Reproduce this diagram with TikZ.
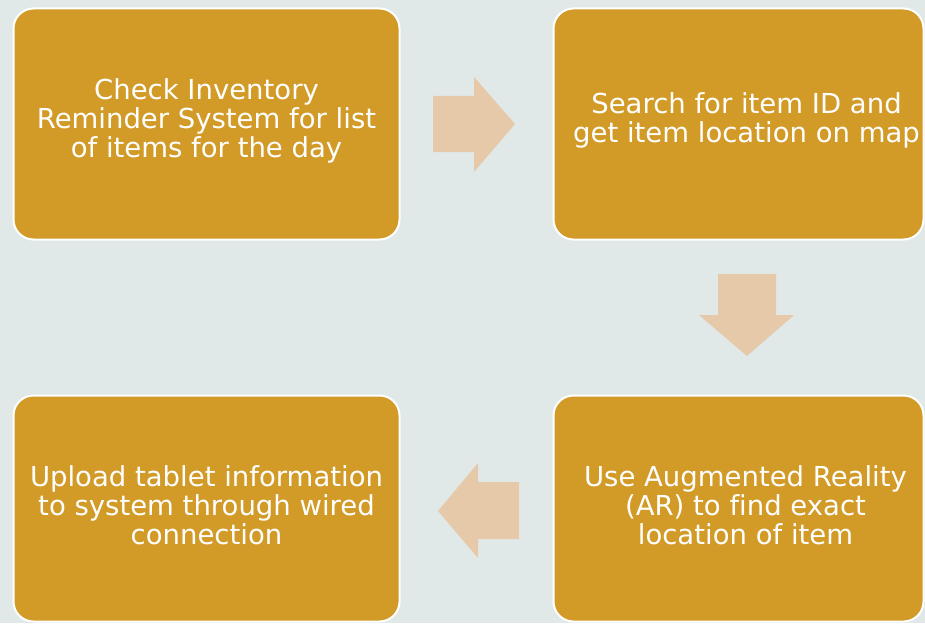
\documentclass[tikz,border=0pt]{standalone}
\usepackage{fontspec}
\setmainfont[Ligatures=CommonOff]{DejaVu Sans}
\definecolor{bg}{HTML}{E1E8E8}
\definecolor{boxfill}{HTML}{D29A27}
\definecolor{arrowfill}{HTML}{E5C9A9}
\begin{document}
\begin{tikzpicture}[x=1pt,y=-1pt,
  stepbox/.style={draw=white,line width=2pt,fill=boxfill,rounded corners=20pt,
    minimum width=386pt,minimum height=231pt,inner sep=0pt},
  steptext/.style={text=white,align=center,inner sep=0pt,
    font=\fontsize{27.5}{29}\selectfont},
  blockarrow/.style={fill=arrowfill,draw=none}]
\fill[bg] (0,0) rectangle (925,623);
\useasboundingbox (0,0) rectangle (925,623);
\node[stepbox] (a) at (206.5,124) {};
\node[stepbox,minimum width=370pt] (b) at (738.5,124) {};
\node[stepbox,minimum width=370pt,minimum height=226pt] (c) at (738.5,508.5) {};
\node[stepbox,minimum height=226pt] (d) at (206.5,508.5) {};
\node[steptext] (at) at ([yshift=3pt]a.center) {Check Inventory\\Reminder System for list\\of items for the day};
\node[steptext] (bt) at ([xshift=8pt,yshift=4pt]b.center) {Search for item ID and\\get item location on map};
\node[steptext] (ct) at ([xshift=7pt,yshift=3pt]c.center) {Use Augmented Reality\\(AR) to find exact\\location of item};
\node[steptext] (dt) at ([yshift=3pt]d.center) {Upload tablet information\\to system through wired\\connection};
\fill[blockarrow] (433,96) -- (474,96) -- (474,77) -- (515,124) -- (474,172) -- (474,152) -- (433,152) -- cycle;
\fill[blockarrow] (718,274) -- (776,274) -- (776,315) -- (794,315) -- (747,356) -- (699,315) -- (718,315) -- cycle;
\fill[blockarrow] (519,482) -- (478,482) -- (478,463) -- (438,511) -- (478,558) -- (478,539) -- (519,539) -- cycle;
\end{tikzpicture}
\end{document}
